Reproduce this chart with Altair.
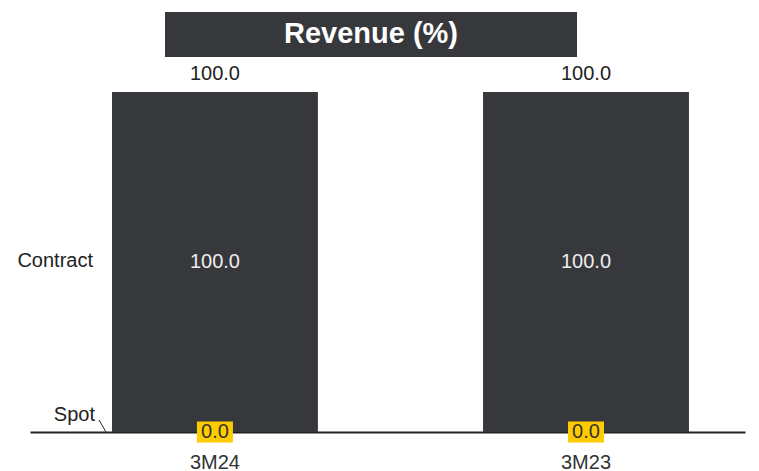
import altair as alt
import pandas as pd

categories = ["3M24", "3M23"]
contract = [100.0, 100.0]
spot = [0.0, 0.0]
series = ["Contract", "Spot"]
title_text = "Revenue (%)"

FONT = "Liberation Sans"
DARK = "#37383c"
FS = 20

rows = []
for c, ct, sp in zip(categories, contract, spot):
    rows.append({"cat": c, "series": "Contract", "value": ct, "order": 1})
    rows.append({"cat": c, "series": "Spot", "value": sp, "order": 0})
long_df = pd.DataFrame(rows)

wide_df = pd.DataFrame({"cat": categories, "contract": contract, "spot": spot})
wide_df["total"] = wide_df["contract"] + wide_df["spot"]
wide_df["mid"] = wide_df["spot"] + wide_df["contract"] / 2
wide_df["contract_lbl"] = [f"{v:.1f}" for v in wide_df["contract"]]
wide_df["spot_lbl"] = [f"{v:.1f}" for v in wide_df["spot"]]
wide_df["total_lbl"] = [f"{v:.1f}" for v in wide_df["total"]]

xscale = alt.Scale(domain=categories, paddingInner=0.445, paddingOuter=0.186, align=0.594)
yscale = alt.Scale(domain=[0, 100])

xenc = alt.X("cat:N", scale=xscale, sort=categories,
             axis=alt.Axis(title=None, labelAngle=0, ticks=False, domainColor="#222",
                           domainWidth=2, labelFont=FONT, labelFontSize=FS,
                           labelColor="#333", labelPadding=20))

bars = alt.Chart(long_df).mark_bar(color=DARK).encode(
    x=xenc,
    y=alt.Y("value:Q", stack="zero", scale=yscale, axis=None),
    order=alt.Order("order:Q"),
)

base = alt.Chart(wide_df)
xs = alt.X("cat:N", scale=xscale, sort=categories)

total_txt = base.mark_text(font=FONT, fontSize=FS, color="#222", baseline="middle", dy=-18).encode(
    x=xs, y=alt.Y("total:Q", scale=yscale), text="total_lbl:N",
)

mid_txt = base.mark_text(font=FONT, fontSize=FS, color="#eeeeee", baseline="middle", dy=-0.5).encode(
    x=xs, y=alt.Y("mid:Q", scale=yscale), text="contract_lbl:N",
)

spot_box = base.mark_point(shape="M-1,-0.583L1,-0.583L1,0.583L-1,0.583Z", size=1296,
                           filled=True, color="#ffcc00", opacity=1, strokeWidth=0).encode(
    x=xs, y=alt.Y("spot:Q", scale=yscale),
)

spot_txt = base.mark_text(font=FONT, fontSize=FS, color="#333", baseline="middle", dy=0).encode(
    x=xs, y=alt.Y("spot:Q", scale=yscale), text="spot_lbl:N",
)

legend_df = pd.DataFrame({"series": series,
                          "pos": [contract[0] / 2, spot[0]]})
contract_lbl = alt.Chart(legend_df).transform_filter(alt.datum.series == "Contract").mark_text(
    font=FONT, fontSize=FS, color="#222", align="right", baseline="middle", dy=-1).encode(
    x=alt.value(63),
    y=alt.Y("pos:Q", scale=yscale),
    text="series:N",
)
spot_lbl = alt.Chart(legend_df).transform_filter(alt.datum.series == "Spot").mark_text(
    font=FONT, fontSize=FS, color="#222", align="right", baseline="middle", dy=-17.5).encode(
    x=alt.value(65),
    y=alt.Y("pos:Q", scale=yscale),
    text="series:N",
)
leader = alt.Chart(legend_df).transform_filter(alt.datum.series == "Spot").mark_rule(
    color="#222", strokeWidth=1).encode(
    x=alt.value(69), x2=alt.value(76), y=alt.value(328), y2=alt.value(340),
)

title_df = pd.DataFrame({"t": [title_text]})
title_box = alt.Chart(title_df).mark_rect(color=DARK).encode(
    x=alt.value(135), x2=alt.value(547), y=alt.value(-80), y2=alt.value(-35),
)
title_txt = alt.Chart(title_df).mark_text(font=FONT, fontSize=29, fontWeight="bold",
                                          color="white", baseline="middle").encode(
    x=alt.value(341), y=alt.value(-58), text="t:N",
)

chart = alt.layer(
    bars, total_txt, mid_txt, spot_box, spot_txt, contract_lbl, spot_lbl, leader,
    title_box, title_txt
).properties(
    width=715, height=340,
    autosize=alt.AutoSizeParams(type="none"),
    padding={"left": 22, "top": 84, "right": 6, "bottom": 45},
).configure_view(stroke=None)

chart.save("out.html", embed_options={"renderer": "svg", "actions": False})
